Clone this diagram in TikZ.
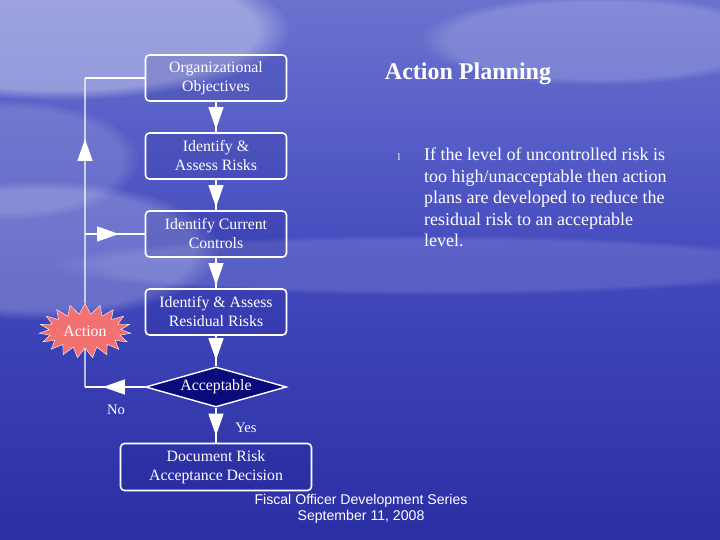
\documentclass[tikz,border=0pt]{standalone}
\usepackage{fontspec}
\setmainfont{Liberation Serif}
\newfontfamily\footfont{Liberation Sans}
\usetikzlibrary{shapes.geometric,shapes.symbols,arrows.meta,decorations.markings,fadings}
\definecolor{bgtop}{HTML}{6A72CF}
\definecolor{bgmid}{HTML}{4249BD}
\definecolor{bgbot}{HTML}{2A2FA3}
\definecolor{navy}{HTML}{0A0A7A}
\definecolor{salmon}{HTML}{F27272}
\tikzset{
  stepbox/.style={draw=white, line width=1.6pt, rounded corners=4pt, fill=navy, fill opacity=0.12, text opacity=1,
    text=white, minimum width=141pt, minimum height=46pt, align=center, font=\fontsize{15.8}{19}\selectfont},
  conn/.style={draw=white, line width=1.2pt},
  midtip/.style={postaction={decorate, decoration={markings, mark=at position #1 with {\arrow{Triangle[width=15pt,length=22pt]}}}}},
  lbl/.style={text=white, font=\fontsize{14.5}{15}\selectfont}
}
\begin{document}
\begin{tikzpicture}[x=1pt,y=-1pt]
% background
\shade[top color=bgtop, bottom color=bgbot, middle color=bgmid] (0,0) rectangle (720,540);
\useasboundingbox (0,0) rectangle (720,540);
\fill[white, opacity=0.35, path fading=circle with fuzzy edge 15 percent] (60,30) ellipse (230 and 70);
\fill[white, opacity=0.18, path fading=circle with fuzzy edge 15 percent] (600,40) ellipse (180 and 45);
\fill[white, opacity=0.22, path fading=circle with fuzzy edge 15 percent] (40,250) ellipse (180 and 70);
\fill[white, opacity=0.12, path fading=circle with fuzzy edge 15 percent] (430,265) ellipse (380 and 30);
\fill[white, opacity=0.15, path fading=circle with fuzzy edge 15 percent] (10,160) ellipse (130 and 60);

% nodes
\node[stepbox] (org) at (216,78) {Organizational\\Objectives};
\node[stepbox] (risks) at (216,156) {Identify \&\\Assess Risks};
\node[stepbox] (ctrl) at (216,234) {Identify Current\\Controls};
\node[stepbox] (resid) at (216,312) {Identify \& Assess\\Residual Risks};
\node[diamond, shape aspect=3.5, draw=white, line width=1.4pt, fill=navy, minimum width=141pt, minimum height=40pt, inner sep=0pt,
  text=white, font=\fontsize{15.8}{17}\selectfont] (acc) at (216,387) {Acceptable};
\node[stepbox, minimum width=191pt, minimum height=47pt] (doc) at (216,467) {Document Risk\\Acceptance Decision};
\node[starburst, starburst points=19, starburst point height=10pt, random starburst=0, fill=salmon, draw=white, line width=0.4pt,
  minimum width=92pt, minimum height=54pt, inner sep=0pt, text=white, font=\fontsize{15.8}{17}\selectfont] (action) at (85,331) {Action};

\coordinate (cno) at (85,387);
\coordinate (ctop) at (85,78);
\coordinate (cmid) at (85,234);

% connectors
\draw[conn, midtip=0.9] (org) -- (risks);
\draw[conn, midtip=0.9] (risks) -- (ctrl);
\draw[conn, midtip=0.9] (ctrl) -- (resid);
\draw[conn, midtip=0.8] (resid) -- (acc);
\draw[conn, midtip=0.8] (acc) -- (doc);
\draw[conn, midtip=0.7] (acc.west) -- (cno);
\draw[conn] (cno) -- (action.south);
\draw[conn, midtip=0.73] (action.north) -- (ctop);
\draw[conn] (ctop) -- (org.west);
\draw[conn, midtip=0.57] (cmid) -- (ctrl.west);

\node[lbl] (no) at (116,410) {No};
\node[lbl] (yes) at (246,428) {Yes};

% title and text
\node[text=white, font=\fontsize{24}{26}\selectfont\bfseries] (title) at (468,74) {Action Planning};
\node[text=white, font=\fontsize{10}{10}\selectfont] (bullet) at (399,157) {l};
\node[text=white, anchor=north west, align=left, inner sep=0pt, font=\fontsize{18}{21.4}\selectfont] (body) at (424,148)
  {If the level of uncontrolled risk is\\too high/unacceptable then action\\plans are developed to reduce the\\residual risk to an acceptable\\level.};
\node[text=white, align=center, font=\footfont\fontsize{14.1}{16.5}\selectfont] (foot) at (361,509)
  {Fiscal Officer Development Series\\September 11, 2008};
\end{tikzpicture}
\end{document}
